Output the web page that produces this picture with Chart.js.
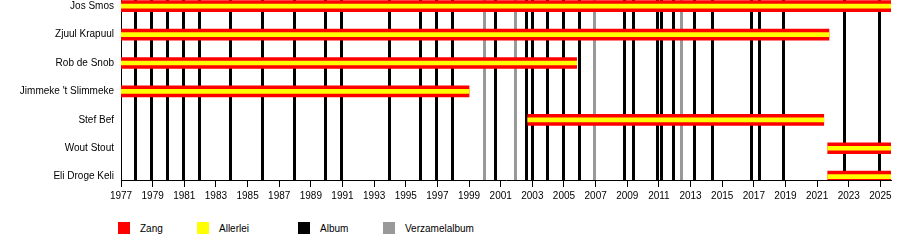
<!DOCTYPE html>
<html>
<head>
<meta charset="utf-8">
<script src="https://cdn.jsdelivr.net/npm/chart.js@4/dist/chart.umd.min.js"></script>
<style>
  body { margin: 0; background: #fff; font-family: 'Liberation Sans', Arial, sans-serif; }
  #wrap { position: relative; width: 900px; height: 205px; overflow: hidden; }
  #chart { position: absolute; left: 0; top: -13px; }
  #legend { position: relative; width: 900px; height: 35px; font-size: 10px; color: #000; }
  .item { position: absolute; top: 17px; display: flex; align-items: center; }
  .box { width: 12px; height: 12px; margin-right: 10px; }
</style>
</head>
<body>
<div id="wrap"><canvas id="chart" width="900" height="216"></canvas></div>
<div id="legend"></div>
<script>
const members = ['Jos Smos', 'Zjuul Krapuul', 'Rob de Snob', "Jimmeke 't Slimmeke", 'Stef Bef', 'Wout Stout', 'Eli Droge Keli'];
const startYear = [1977, 1977, 1977, 1977, 2002.71, 2021.67, 2021.67];
const endYear = [2025.67, 2021.75, 2005.8, 1999.0, 2021.42, 2025.67, 2025.67];

// albums (black) and compilations (grey)
const albums = [1977.9, 1978.95, 1979.95, 1980.95, 1981.95, 1983.9, 1985.95, 1987.95,
  1989.95, 1990.95, 1993.95, 1995.95, 1996.95, 1997.95, 2000.65, 2002.6, 2003.0,
  2003.95, 2004.95, 2005.95, 2008.85, 2009.4, 2010.9, 2011.15, 2011.9, 2013.25,
  2014.4, 2016.85, 2017.35, 2018.85, 2022.75, 2024.95];
const compilations = [1999.95, 2001.95, 2006.95, 2012.45];

const yearTicks = [1977, 1979, 1981, 1983, 1985, 1987, 1989, 1991, 1993, 1995, 1997, 1999,
  2001, 2003, 2005, 2007, 2009, 2011, 2013, 2015, 2017, 2019, 2021, 2023, 2025];

const legendLabels = ['Zang', 'Allerlei', 'Album', 'Verzamelalbum'];
const legendColors = ['#ff0000', '#ffff00', '#000000', '#999999'];
const legendLeft = [118, 197, 298, 383];

const xMin = 1977, xMax = 2025.67;

Chart.defaults.font.family = "'Liberation Sans', Arial, sans-serif";
Chart.defaults.font.size = 10;
Chart.defaults.color = '#000';

const spans = members.map((m, i) => ({ x: [startYear[i], endYear[i]], y: i }));

const chart = new Chart(document.getElementById('chart'), {
  type: 'bar',
  data: {
    datasets: [
      { label: 'Allerlei', data: spans, backgroundColor: '#ffff00', barThickness: 4, grouped: false, order: 0 },
      { label: 'Zang', data: spans, backgroundColor: '#ff0000', barThickness: 11, grouped: false, order: 1 }
    ]
  },
  options: {
    indexAxis: 'y',
    responsive: false,
    animation: false,
    layout: { padding: { left: 0, right: 9, top: 0, bottom: 0 } },
    scales: {
      y: {
        type: 'linear',
        reverse: true,
        offset: false,
        min: -0.218,
        max: 6.116,
        afterBuildTicks: axis => { axis.ticks = members.map((m, i) => ({ value: i })); },
        afterFit: axis => { axis.width = 121; },
        ticks: { callback: v => members[v], padding: 7, font: { size: 10 } },
        grid: { display: false, drawTicks: false },
        border: { display: true, color: '#000', width: 1 }
      },
      x: {
        type: 'linear',
        min: xMin,
        max: xMax,
        afterBuildTicks: axis => { axis.ticks = yearTicks.map(v => ({ value: v })); },
        afterFit: axis => { axis.height = 23; },
        ticks: { callback: v => String(v), maxRotation: 0, autoSkip: false, padding: 3 },
        grid: { drawOnChartArea: false, drawTicks: true, tickLength: 7, color: '#000', lineWidth: 1 },
        border: { display: true, color: '#000', width: 1 }
      },
      xa: {
        type: 'linear',
        position: 'top',
        axis: 'x',
        min: xMin,
        max: xMax,
        afterBuildTicks: axis => {
          axis.ticks = albums.concat(compilations).map(v => ({ value: v }));
        },
        afterFit: axis => { axis.height = 0; },
        ticks: { display: false },
        grid: {
          drawTicks: false,
          lineWidth: 3,
          color: ctx => compilations.includes(ctx.tick.value) ? '#999999' : '#000000'
        },
        border: { display: false }
      }
    },
    plugins: {
      legend: { display: false },
      tooltip: { enabled: false }
    }
  }
});

const legend = document.getElementById('legend');
legendLabels.forEach((txt, i) => {
  const el = document.createElement('div');
  el.className = 'item';
  el.style.left = legendLeft[i] + 'px';
  el.innerHTML = '<span class="box" style="background:' + legendColors[i] + '"></span><span>' + txt + '</span>';
  legend.appendChild(el);
});
</script>
</body>
</html>
